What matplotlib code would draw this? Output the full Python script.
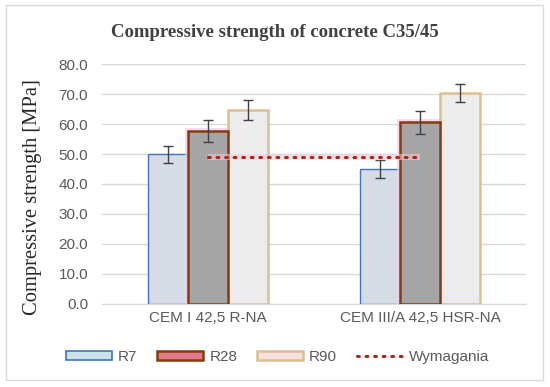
import matplotlib.pyplot as plt
import numpy as np
from matplotlib.patches import Patch
from matplotlib.lines import Line2D

# dane
kategorie = ["CEM I 42,5 R-NA", "CEM III/A 42,5 HSR-NA"]
serie = ["R7", "R28", "R90"]
r7 = [49.9, 44.9]
r28 = [57.7, 60.6]
r90 = [64.7, 70.4]
err7 = [2.9, 3.0]
err28 = [3.7, 3.8]
err90 = [3.3, 3.0]
wymagania = [49.1, 49.1]
yticks = np.arange(0, 81, 10)

fig = plt.figure(figsize=(5.5, 3.87), dpi=100)
ax = fig.add_axes([0.1855, 0.2145, 0.7709, 0.6201])

x = np.arange(len(kategorie))
w = 0.19

# ramka wokol calego wykresu
fig.patches.append(plt.Rectangle((0.011, 0.018), 0.976, 0.968, transform=fig.transFigure,
                                 fill=False, edgecolor="#d9d9d9", linewidth=1))

ax.bar(x - w, r7, w, color="#d6dce5", edgecolor="#4472c4", linewidth=1, zorder=2)
# poswiata R28
ax.bar(x, r28, w, color="none", edgecolor="#ffc8dc", linewidth=5, alpha=0.7, zorder=2)
ax.bar(x, r28, w, color="#a5a5a5", edgecolor="#843c0c", linewidth=1.8, zorder=3)
ax.bar(x + w, r90, w, color="#ececec", edgecolor="#dcc08e", linewidth=1.8, zorder=2)

eb = dict(fmt="none", ecolor="#404040", elinewidth=1, capsize=3.5, capthick=1, zorder=5)
ax.errorbar(x - w, r7, yerr=err7, **eb)
ax.errorbar(x, r28, yerr=err28, **eb)
ax.errorbar(x + w, r90, yerr=err90, **eb)

ax.plot(x, wymagania, color="#ffc8dc", linewidth=4.5, alpha=0.55, zorder=6, solid_capstyle="butt")
ax.plot(x, wymagania, color="#a52a1a", linewidth=2.2, linestyle=(0, (0.6, 2.2)),
        dash_capstyle="round", zorder=7)

ax.set_xlim(-0.5, 1.5)
ax.set_ylim(0, 80)
ax.set_yticks(yticks)
ax.set_yticklabels(["{:.1f}".format(v) for v in yticks])
ax.set_xticks(x)
ax.set_xticklabels(kategorie)
ax.yaxis.grid(True, color="#d9d9d9", linewidth=1)
ax.set_axisbelow(True)
for s in ["top", "right", "left"]:
    ax.spines[s].set_visible(False)
ax.spines["bottom"].set_color("#d9d9d9")
ax.tick_params(length=0, labelsize=11, colors="#595959")
ax.tick_params(axis="y", pad=10)
ax.tick_params(axis="x", pad=5)
for t in ax.get_xticklabels() + ax.get_yticklabels():
    t.set_family("Liberation Sans")

ax.set_ylabel("Compressive strength [MPa]", family="Liberation Serif", fontsize=14.8,
              color="#262626")
ax.yaxis.set_label_coords(-0.142, 0.445)
fig.text(0.5, 0.915, "Compressive strength of concrete C35/45", ha="center", va="center",
         family="Liberation Serif", fontweight="bold", fontsize=13.5, color="#404040")

uchwyty = [
    Patch(facecolor="#c9e2ec", edgecolor="#4472c4", linewidth=1.2, label="R7"),
    Patch(facecolor="#e07a8c", edgecolor="#843c0c", linewidth=1.8, label="R28"),
    Patch(facecolor="#f8dfe2", edgecolor="#dcc08e", linewidth=1.8, label="R90"),
    Line2D([0], [0], color="#a52a1a", linewidth=2.2, linestyle=(0, (0.6, 2.2)),
           dash_capstyle="round", label="Wymagania"),
]
leg = fig.legend(handles=uchwyty, loc="center", bbox_to_anchor=(0.505, 0.078), ncol=4,
                 frameon=False, handlelength=3.0, handleheight=0.6,
                 columnspacing=1.3, handletextpad=0.4,
                 prop={"family": "Liberation Sans", "size": 11})
for t in leg.get_texts():
    t.set_color("#595959")

fig.savefig("out.png", dpi=100)
